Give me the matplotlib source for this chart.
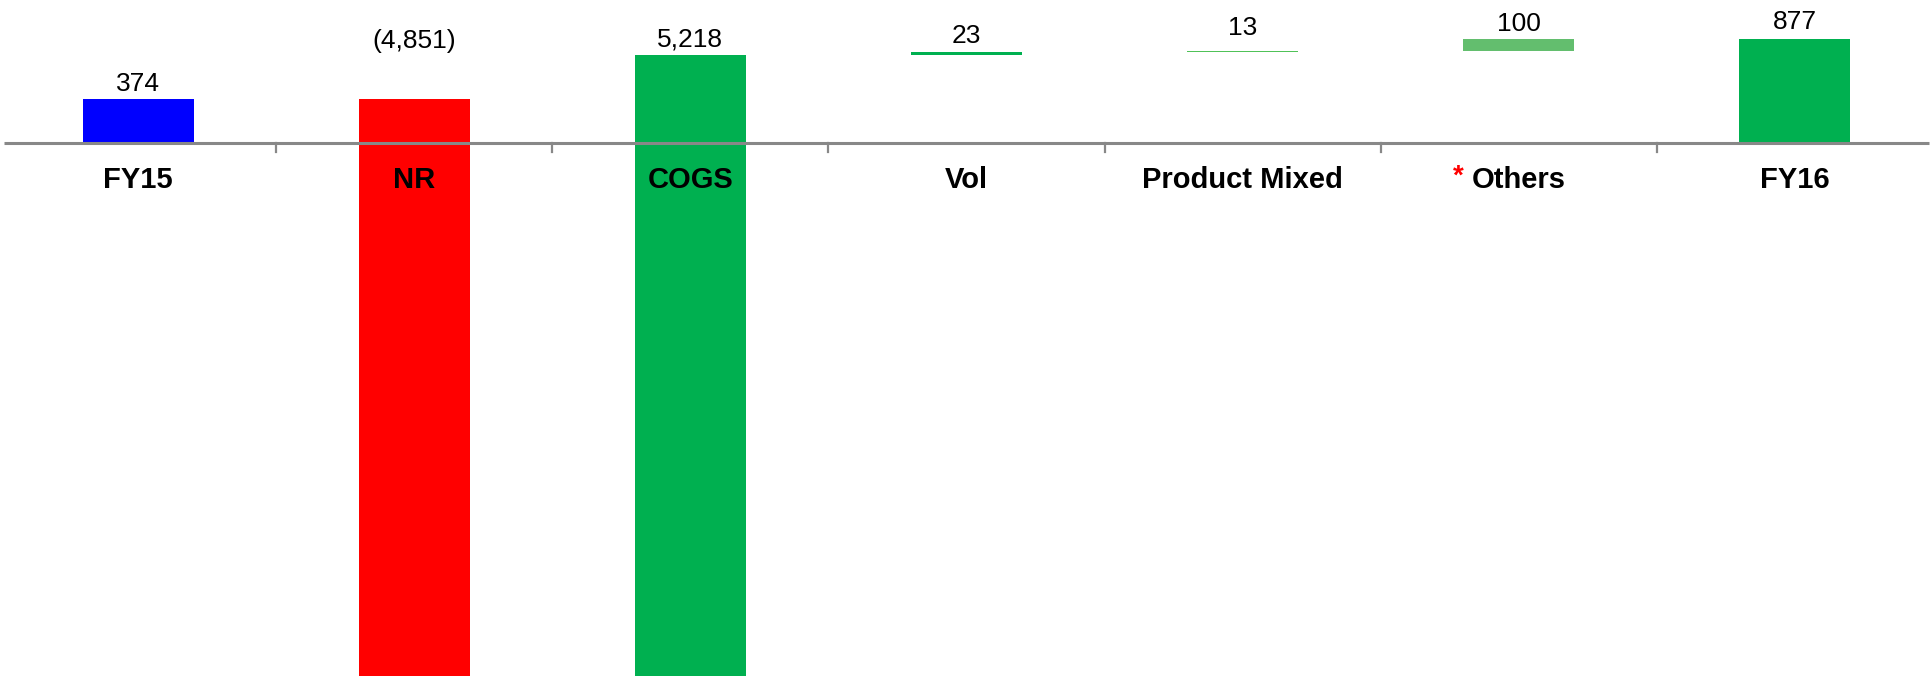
import matplotlib.pyplot as plt
from matplotlib.transforms import blended_transform_factory

categories = ["FY15", "NR", "COGS", "Vol", "Product Mixed", "Others", "FY16"]
changes = [374, -4851, 5218, 23, 13, 100, 877]
is_total = [True, False, False, False, False, False, True]
value_labels = ["374", "(4,851)", "5,218", "23", "13", "100", "877"]

colors = ["#0000FF", "#FF0000", "#00B050", "#00B050", "#50C258", "#63BE6E", "#00B050"]
label_gap_px = [8, 50.7, 8.3, 9.1, 15.9, 8, 9.7]

DPI = 100
fig = plt.figure(figsize=(19.33, 6.76), dpi=DPI)
ax = fig.add_axes([0, 0, 1, 1])

# waterfall: running total
bottoms, tops = [], []
running = 0
for val, tot in zip(changes, is_total):
    if tot:
        b, t = 0, val
        running = val
    else:
        b, t = running, running + val
        running = t
    bottoms.append(min(b, t))
    tops.append(max(b, t))

x = list(range(len(categories)))
heights = [t - b for b, t in zip(bottoms, tops)]
ax.bar(x, heights, bottom=bottoms, width=0.402, color=colors, zorder=2)

ax.set_xlim(-0.5, 6.5)
ax.set_ylim(-4468, 1204)
ax.axis("off")

# category axis with tick marks between categories
ax.plot([-0.485, 6.485], [0, 0], color="#888888", lw=2.2, zorder=3, solid_capstyle="butt")
tick_len = 8.5 * 8.39
for b in range(len(categories) - 1):
    ax.plot([b + 0.5, b + 0.5], [0, -tick_len], color="#888888", lw=1.6, zorder=3)

for xi, top, lab, gap in zip(x, tops, value_labels, label_gap_px):
    ax.annotate(lab, xy=(xi, top), xytext=(0, gap * 72 / DPI), textcoords="offset points",
                ha="center", va="baseline", fontsize=19, family="Liberation Sans", color="black")

trans = blended_transform_factory(ax.transData, ax.transAxes)
label_y = 1 - 187.7 / 676
for xi, cat in zip(x, categories):
    ax.text(xi, label_y, cat, transform=trans, ha="center", va="baseline",
            fontsize=21, fontweight="bold", family="Liberation Sans", color="black", zorder=4)

# red asterisk before "Others"
ax.text(4.802, 1 - 184 / 676, "*", transform=trans, ha="right", va="baseline",
        fontsize=20, fontweight="bold", family="Liberation Sans", color="#FF0000")

fig.savefig("out.png", dpi=DPI)
